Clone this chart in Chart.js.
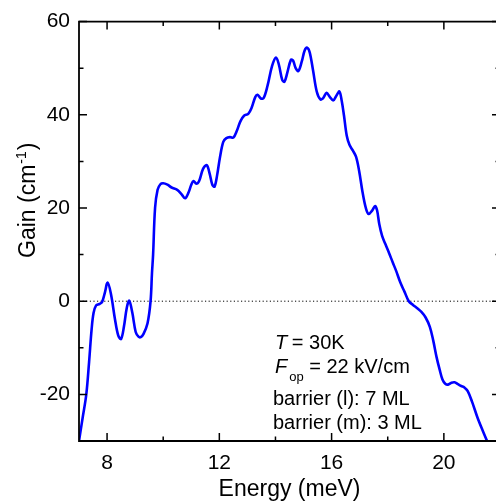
<!DOCTYPE html>
<html><head><meta charset="utf-8">
<script src="https://cdn.jsdelivr.net/npm/chart.js@4.4.0/dist/chart.umd.min.js"></script>
<style>
html,body{margin:0;padding:0;overflow:hidden;background:#fff;width:496px;height:502px;}
#wrap{position:relative;width:510px;height:502px;}
</style></head><body>
<div id="wrap"><canvas id="c" width="510" height="502"></canvas></div>
<script>
// ---- data ----
const energy = [7.00,7.13,7.26,7.36,7.45,7.52,7.61,7.73,7.82,7.92,8.02,8.14,8.28,8.40,8.50,8.60,8.70,8.79,8.90,9.02,9.12,9.20,9.30,9.44,9.55,9.60,9.64,9.71,9.80,9.90,10.00,10.15,10.30,10.50,10.65,10.78,10.90,11.00,11.08,11.18,11.28,11.42,11.55,11.65,11.75,11.83,11.92,12.02,12.14,12.25,12.38,12.50,12.62,12.75,12.88,13.03,13.15,13.28,13.36,13.48,13.58,13.72,13.88,14.02,14.12,14.24,14.32,14.42,14.55,14.63,14.72,14.82,14.94,15.04,15.13,15.22,15.34,15.47,15.60,15.70,15.82,15.94,16.06,16.18,16.28,16.36,16.44,16.54,16.64,16.76,16.87,16.98,17.10,17.22,17.32,17.45,17.55,17.62,17.70,17.80,17.92,18.05,18.18,18.30,18.45,18.60,18.75,18.90,19.05,19.20,19.35,19.50,19.62,19.74,19.85,19.95,20.05,20.15,20.27,20.38,20.50,20.62,20.73,20.85,21.00,21.20,21.40,21.56];
const gain   = [-30.0,-25.0,-20.0,-13.0,-6.0,-2.5,-0.9,-0.6,-0.2,1.8,4.0,1.5,-3.8,-7.4,-8.1,-5.5,-1.5,0.1,-2.5,-6.6,-7.6,-7.7,-7.0,-4.8,0.0,6.0,10.0,20.0,23.9,25.1,25.3,25.0,24.4,23.9,23.0,22.1,23.3,25.0,25.8,25.2,25.8,28.4,29.2,27.5,25.0,24.6,27.0,30.8,34.2,35.0,35.2,35.1,36.5,38.6,39.8,40.2,41.5,43.8,44.3,43.5,43.6,46.3,50.5,52.3,50.8,47.5,47.1,49.0,51.8,51.6,50.0,49.4,51.5,53.8,54.4,53.4,49.5,45.0,43.3,43.6,44.7,43.8,43.1,44.2,45.0,43.0,39.9,35.5,33.5,32.3,31.0,28.0,23.5,20.0,18.7,19.5,20.4,19.5,16.5,14.0,12.2,10.3,8.3,6.5,4.0,2.0,0.0,-0.8,-1.5,-2.3,-3.5,-5.5,-8.4,-12.0,-14.7,-16.8,-17.7,-17.9,-17.5,-17.4,-17.8,-18.2,-18.5,-19.3,-21.5,-25.0,-28.0,-30.3];
const zeroLineX = [7, 22];
const xMajorTicks = [8, 12, 16, 20];
const xMinorTicks = [10, 14, 18, 22];
const yMajorTicks = [60, 40, 20, 0, -20];
const yMinorTicks = [50, 30, 10, -10];
const xTitle = 'Energy (meV)';
const yTitleMain = 'Gain (cm';
const yTitleSup = '-1';
const yTitleEnd = ')';
const noteT = ['T', ' = 30K'];
const noteF = ['F', 'op', ' = 22 kV/cm'];
const noteBarrierL = 'barrier (l): 7 ML';
const noteBarrierM = 'barrier (m): 3 ML';

const FONT = '"Liberation Sans", Arial, Helvetica, sans-serif';

const points = energy.map((e, i) => ({x: e, y: gain[i]}));
const zeroPts = zeroLineX.map(e => ({x: e, y: 0}));

const framePlugin = {
  id: 'frame',
  afterDatasetsDraw(chart) {
    const {ctx, chartArea: a, scales: {x, y}} = chart;
    ctx.save();
    ctx.strokeStyle = '#000';
    ctx.lineWidth = 1.8;
    ctx.beginPath();
    ctx.rect(a.left, a.top, a.right - a.left, a.bottom - a.top);
    ctx.stroke();
    ctx.lineWidth = 1.5;
    ctx.beginPath();
    const xt = (v, len) => {
      const p = x.getPixelForValue(v);
      ctx.moveTo(p, a.bottom); ctx.lineTo(p, a.bottom - len);
      ctx.moveTo(p, a.top); ctx.lineTo(p, a.top + len);
    };
    const yt = (v, len) => {
      const p = y.getPixelForValue(v);
      ctx.moveTo(a.left, p); ctx.lineTo(a.left + len, p);
      ctx.moveTo(a.right, p); ctx.lineTo(a.right - len, p);
    };
    xMajorTicks.forEach(v => xt(v, 8));
    xMinorTicks.forEach(v => xt(v, 4.5));
    yMajorTicks.forEach(v => yt(v, 8));
    yMinorTicks.forEach(v => yt(v, 4.5));
    ctx.stroke();
    ctx.restore();
  },
  afterDraw(chart) {
    const {ctx, chartArea: a} = chart;
    ctx.save();
    ctx.fillStyle = '#000';
    ctx.textBaseline = 'alphabetic';
    // x title
    ctx.font = '23px ' + FONT;
    ctx.textAlign = 'center';
    ctx.fillText(xTitle, (a.left + a.right) / 2, 496);
    // y title (rotated)
    ctx.textAlign = 'left';
    ctx.translate(35, 258);
    ctx.rotate(-Math.PI / 2);
    ctx.font = '23px ' + FONT;
    let w = ctx.measureText(yTitleMain).width;
    ctx.fillText(yTitleMain, 0, 0);
    ctx.font = '14px ' + FONT;
    ctx.fillText(yTitleSup, w + 1, -9);
    const w2 = ctx.measureText(yTitleSup).width;
    ctx.font = '23px ' + FONT;
    ctx.fillText(yTitleEnd, w + w2 + 2, 0);
    ctx.setTransform(1, 0, 0, 1, 0, 0);
    // note
    const x0 = 275;
    ctx.font = 'italic 20px ' + FONT;
    ctx.fillText(noteT[0], x0, 349);
    let tw = ctx.measureText(noteT[0]).width;
    ctx.font = '20px ' + FONT;
    ctx.fillText(noteT[1], x0 + tw - 1, 349);
    ctx.font = 'italic 20px ' + FONT;
    ctx.fillText(noteF[0], x0, 373);
    tw = ctx.measureText(noteF[0]).width;
    ctx.font = '13px ' + FONT;
    ctx.fillText(noteF[1], x0 + tw + 2, 381);
    const sw = ctx.measureText(noteF[1]).width;
    ctx.font = '20px ' + FONT;
    ctx.fillText(noteF[2], x0 + tw + 2 + sw, 373);
    ctx.fillText(noteBarrierL, 273, 405);
    ctx.fillText(noteBarrierM, 273, 429);
    ctx.restore();
  }
};

new Chart(document.getElementById('c'), {
  type: 'scatter',
  data: {
    datasets: [
      {
        data: zeroPts, showLine: true, borderColor: '#000', borderWidth: 1,
        borderDash: [1.2, 2.4], pointRadius: 0, order: 2
      },
      {
        data: points, showLine: true, borderColor: '#0000ff', borderWidth: 2.6,
        tension: 0.35, pointRadius: 0, order: 1
      }
    ]
  },
  options: {
    responsive: false, animation: false, devicePixelRatio: 1,
    layout: {padding: {top: 18, right: 6, left: 0, bottom: 0}},
    plugins: {legend: {display: false}, tooltip: {enabled: false}},
    scales: {
      x: {
        type: 'linear', min: 7, max: 22,
        grid: {display: false, drawTicks: false},
        border: {display: false},
        afterBuildTicks: s => { s.ticks = [...xMajorTicks, ...xMinorTicks].sort((a, b) => a - b).map(v => ({value: v})); },
        afterFit: s => { s.height = 61; },
        ticks: {
          autoSkip: false, maxRotation: 0, padding: 10, color: '#000',
          font: {size: 21, family: FONT},
          callback: v => xMajorTicks.includes(v) ? String(v) : ''
        }
      },
      y: {
        type: 'linear', min: -30, max: 60,
        grid: {display: false, drawTicks: false},
        border: {display: false},
        afterBuildTicks: s => { s.ticks = [...yMajorTicks, ...yMinorTicks].sort((a, b) => a - b).map(v => ({value: v})); },
        afterFit: s => { s.width = 79; },
        ticks: {
          autoSkip: false, padding: 9, color: '#000',
          font: {size: 21, family: FONT},
          callback: v => yMajorTicks.includes(v) ? String(v) : ''
        }
      }
    }
  },
  plugins: [framePlugin]
});
</script>
</body></html>
